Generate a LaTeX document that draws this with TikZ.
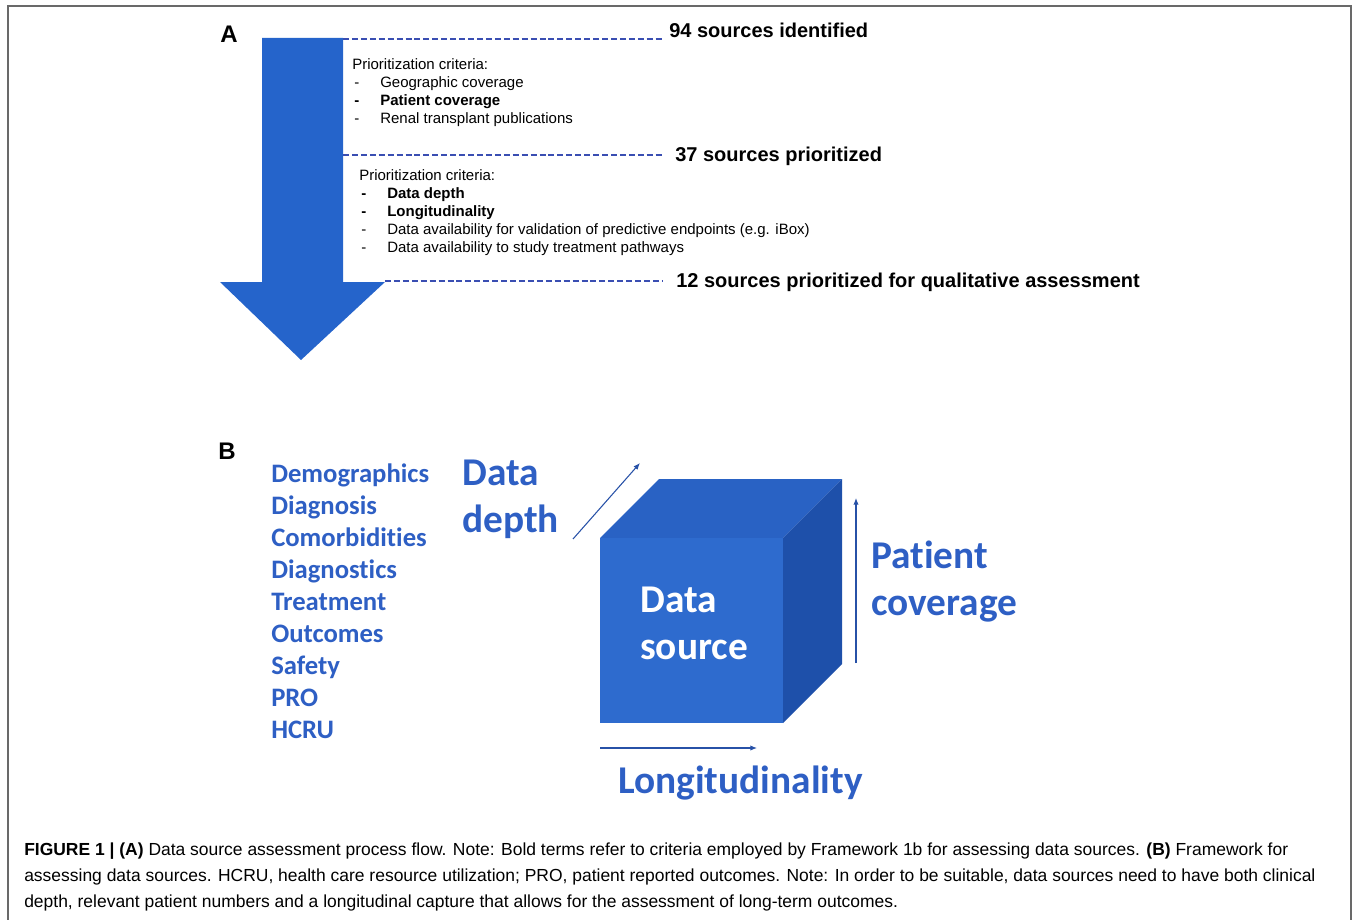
\documentclass[tikz,border=0pt]{standalone}
\usepackage{fontspec}
\setmainfont{Liberation Sans}
\newfontfamily\calibri[Ligatures=NoCommon]{Carlito}
\usepackage{xcolor}
\usetikzlibrary{positioning,calc,arrows.meta}

\definecolor{arrowblue}{RGB}{37,100,203}
\definecolor{dashblue}{RGB}{58,78,178}
\definecolor{wordblue}{RGB}{46,95,196}
\definecolor{cubefront}{RGB}{46,107,206}
\definecolor{cubetop}{RGB}{41,98,196}
\definecolor{cubeside}{RGB}{30,80,170}
\definecolor{framegray}{RGB}{105,105,105}

\tikzset{
    panel/.style={anchor=base west, inner sep=0pt, font=\fontsize{18}{20}\selectfont\bfseries},
    stage/.style={anchor=base west, inner sep=0pt, font=\fontsize{15}{17}\selectfont\bfseries},
    crit/.style={anchor=north west, inner sep=0pt, align=left, font=\fontsize{11.25}{13.5}\selectfont},
    divider/.style={dashblue, line width=1.4pt, dash pattern=on 4.5pt off 2.2pt},
    item/.style={anchor=base west, inner sep=0pt, text=wordblue, font=\calibri\bfseries\fontsize{20}{22}\selectfont},
    axislabel/.style={anchor=north west, inner sep=0pt, align=left, text=wordblue, font=\calibri\bfseries\fontsize{29.5}{35}\selectfont},
    axisarrow/.style={wordblue!85!black, line width=0.8pt, -{Latex[length=5pt,width=4pt]}},
}
\newcommand{\bullitem}{\makebox[21pt][l]{\hspace{1.5pt}-}}

\begin{document}
\begin{tikzpicture}[x=0.75pt,y=-0.75pt]
    \useasboundingbox (0,0) rectangle (1356,920);
    \draw[framegray, line width=1.1pt] (8,930) -- (8,6) -- (1351,6) -- (1351,930);

    % panel A: funnel arrow
    \node[panel] (labA) at (220,43) {A};
    \fill[arrowblue] (262,38) -- (343,38) -- (343,282) -- (385,282) -- (301,360)
        -- (220,282) -- (262,282) -- cycle;
    \coordinate (cut1) at (343,39);
    \coordinate (cut2) at (343,155);
    \coordinate (cut3) at (385,281);

    \node[stage] (identified) at (669,38) {94 sources identified};
    \node[stage] (prio37) at (675,162) {37 sources prioritized};
    \node[stage] (prio12) at (676,287) {12 sources prioritized for qualitative assessment};
    \draw[divider, shorten >=5pt] (cut1) -- (cut1 -| identified.west);
    \draw[divider, shorten >=9.5pt] (cut2) -- (cut2 -| prio37.west);
    \draw[divider, shorten >=10pt] (cut3) -- (cut3 -| prio12.west);

    \node[crit] (critA) at (352,58.5) {Prioritization criteria:\\
        \bullitem Geographic coverage\\
        {\bfseries\bullitem Patient coverage}\\
        \bullitem Renal transplant publications};
    \node[crit] (critB) at (359,169.5) {Prioritization criteria:\\
        {\bfseries\bullitem Data depth}\\
        {\bfseries\bullitem Longitudinality}\\
        \bullitem Data availability for validation of predictive endpoints (e.g. iBox)\\
        \bullitem Data availability to study treatment pathways};

    % panel B: data source cube
    \node[panel] (labB) at (218,459) {B};
    \node[item] (demo) at (271,482) {Demographics};
    \node[item] (diag) at (271,514) {Diagnosis};
    \node[item] (comorb) at (271,546) {Comorbidities};
    \node[item] (diagn) at (271,578) {Diagnostics};
    \node[item] (treat) at (271,610) {Treatment};
    \node[item] (outc) at (271,642) {Outcomes};
    \node[item] (safety) at (271,674) {Safety};
    \node[item] (pro) at (271,706) {PRO};
    \node[item] (hcru) at (271,738) {HCRU};

    \fill[cubetop] (600,538) -- (659,479) -- (842,479) -- (783,538) -- cycle;
    \fill[cubeside] (783,538) -- (842,479) -- (842,664) -- (783,723) -- cycle;
    \fill[cubefront] (600,538) rectangle (783,723);
    \node[axislabel, text=white] (source) at (640,587) {Data\\source};

    \node[axislabel] (depth) at (462,460) {Data\\depth};
    \node[axislabel] (coverage) at (871,541) {Patient\\coverage};
    \node[axislabel, anchor=base west] (longit) at (618,793) {Longitudinality};

    \coordinate (dstart) at (573,539);
    \coordinate (dend) at (640,463);
    \coordinate (cstart) at (856,663);
    \coordinate (cend) at (856,498);
    \coordinate (lstart) at (600,748);
    \coordinate (lend) at (757,748);
    \draw[axisarrow] (dstart) -- (dend);
    \draw[axisarrow] (cstart) -- (cend);
    \draw[axisarrow] (lstart) -- (lend);

    % caption
    \node[anchor=north west, inner sep=0pt, align=left, font=\fontsize{13.1}{19.5}\selectfont] (caption) at (24,842.5)
        {\textbf{FIGURE 1 | (A)} Data source assessment process flow. Note: Bold terms refer to criteria employed by Framework 1b for assessing data sources. \textbf{(B)} Framework for\\
        assessing data sources. HCRU, health care resource utilization; PRO, patient reported outcomes. Note: In order to be suitable, data sources need to have both clinical\\
        depth, relevant patient numbers and a longitudinal capture that allows for the assessment of long-term outcomes.};
\end{tikzpicture}
\end{document}
